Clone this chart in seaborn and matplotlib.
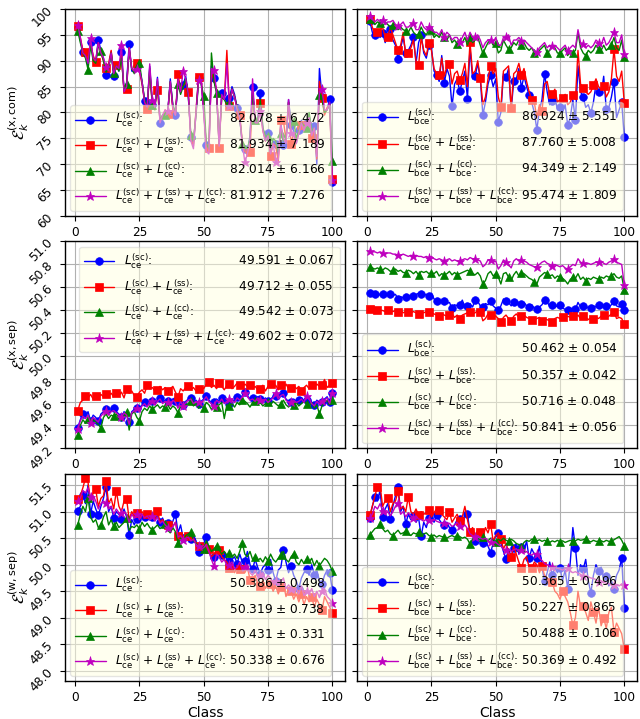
import matplotlib
matplotlib.use("Agg")
import matplotlib.pyplot as plt
import numpy as np
import seaborn as sns

class_ids = np.arange(1, 101)

# ---- row 1: E^(x,com) ----
xcom_ce_sc = [
    96.5, 94.0, 91.7, 91.5, 89.0, 93.7, 90.5, 89.8, 94.1, 92.0,
    90.5, 87.3, 88.5, 91.8, 87.0, 89.5, 88.0, 91.6, 84.2, 85.8,
    93.2, 88.0, 87.8, 89.0, 88.5, 86.0, 82.3, 80.8, 88.9, 81.5,
    81.0, 86.8, 78.0, 79.5, 80.0, 79.8, 86.5, 81.0, 79.5, 86.0,
    84.0, 85.4, 87.0, 83.5, 75.2, 74.0, 80.0, 86.7, 86.0, 80.0,
    73.8, 72.5, 89.0, 86.7, 84.0, 73.5, 83.7, 83.0, 82.0, 82.8,
    85.0, 83.5, 80.9, 79.0, 74.0, 73.0, 72.5, 75.5, 84.9, 78.0,
    78.5, 83.7, 77.0, 75.0, 76.0, 72.0, 74.5, 74.0, 71.5, 78.0,
    73.8, 74.0, 82.5, 77.5, 76.5, 74.0, 76.7, 78.5, 77.0, 78.0,
    79.5, 76.0, 77.3, 70.0, 88.5, 83.0, 80.0, 80.5, 82.6, 66.5,
]
xcom_ce_sc_ss = [
    96.8, 94.5, 92.0, 91.6, 90.0, 93.5, 91.0, 89.8, 93.5, 91.5,
    90.0, 88.6, 89.5, 92.0, 87.5, 89.2, 88.5, 91.0, 84.0, 84.5,
    92.5, 88.5, 88.0, 89.6, 88.0, 85.5, 82.0, 80.6, 88.0, 81.5,
    81.5, 84.4, 78.5, 79.0, 80.5, 79.7, 85.8, 80.5, 79.5, 87.4,
    84.5, 85.0, 86.0, 83.9, 75.0, 73.5, 80.5, 86.8, 86.5, 80.5,
    73.5, 73.1, 88.0, 86.0, 84.5, 73.2, 83.0, 82.5, 92.0, 81.2,
    84.5, 83.0, 81.0, 79.5, 74.5, 72.5, 72.0, 72.4, 84.0, 78.5,
    78.0, 81.8, 76.5, 74.5, 75.5, 71.6, 74.0, 73.5, 70.5, 78.5,
    78.5, 74.5, 82.0, 73.9, 76.0, 74.5, 76.0, 77.5, 76.5, 77.0,
    78.5, 75.0, 76.5, 71.0, 86.0, 82.8, 79.5, 81.0, 81.5, 67.2,
]
xcom_ce_sc_cc = [
    95.8, 93.5, 91.5, 90.5, 88.3, 93.0, 90.0, 89.5, 93.0, 91.9,
    90.0, 87.8, 88.5, 91.5, 87.6, 89.0, 88.0, 90.5, 84.5, 85.5,
    92.0, 88.5, 87.5, 89.0, 89.6, 86.0, 82.5, 81.0, 88.5, 81.5,
    80.5, 86.0, 78.5, 79.5, 79.5, 80.0, 86.0, 81.5, 80.0, 85.5,
    83.5, 85.0, 86.5, 83.0, 75.7, 74.5, 79.5, 86.0, 85.5, 83.2,
    74.0, 73.0, 91.5, 86.0, 83.7, 74.0, 83.0, 82.5, 81.5, 82.0,
    84.5, 83.0, 81.0, 79.0, 74.0, 73.5, 73.0, 75.0, 84.0, 78.5,
    78.0, 82.5, 77.0, 75.5, 75.5, 73.0, 75.0, 74.5, 72.5, 76.0,
    74.5, 75.0, 82.0, 77.0, 78.4, 75.0, 76.5, 78.0, 77.5, 77.0,
    80.0, 76.5, 77.0, 72.0, 83.4, 82.5, 80.0, 80.5, 81.5, 70.6,
]
xcom_ce_all = [
    97.0, 94.5, 91.5, 91.0, 89.5, 94.3, 90.5, 90.0, 93.5, 91.5,
    90.5, 88.8, 89.0, 91.5, 87.5, 89.0, 88.5, 93.0, 84.0, 85.0,
    92.5, 88.5, 88.0, 88.4, 88.0, 86.0, 82.0, 81.0, 89.4, 82.4,
    81.0, 86.5, 78.0, 79.5, 80.5, 80.2, 86.0, 81.0, 79.5, 86.5,
    84.0, 88.1, 86.5, 83.5, 74.5, 73.0, 80.0, 86.2, 86.0, 80.0,
    72.5, 72.0, 88.5, 88.2, 84.0, 73.5, 83.5, 82.5, 89.5, 81.3,
    84.5, 83.0, 80.5, 79.0, 74.0, 70.4, 72.0, 74.5, 86.5, 78.0,
    78.0, 80.3, 76.5, 74.5, 75.5, 72.0, 74.0, 70.5, 71.0, 77.5,
    75.0, 74.0, 82.5, 76.0, 76.0, 74.0, 76.0, 78.0, 76.5, 78.0,
    79.0, 75.5, 77.0, 71.5, 84.0, 84.5, 80.5, 80.5, 82.0, 67.0,
]
xcom_bce_sc = [
    97.7, 95.5, 94.9, 95.8, 94.5, 95.4, 93.5, 95.0, 96.2, 94.0,
    93.0, 90.3, 92.5, 94.5, 91.5, 92.0, 93.0, 94.6, 89.5, 93.5,
    95.0, 91.5, 90.5, 93.0, 92.5, 88.0, 87.3, 86.0, 91.0, 85.7,
    88.5, 87.0, 81.2, 85.5, 86.5, 84.1, 86.0, 88.0, 82.7, 92.5,
    86.5, 87.0, 89.5, 86.5, 79.5, 82.0, 85.5, 87.2, 85.0, 86.5,
    78.2, 80.0, 87.5, 86.8, 88.5, 80.5, 86.0, 86.5, 88.5, 84.8,
    87.0, 85.0, 83.3, 82.0, 80.0, 76.7, 80.5, 82.5, 87.5, 84.0,
    81.5, 82.2, 83.0, 80.5, 81.0, 80.0, 81.5, 77.6, 79.0, 82.5,
    78.5, 89.0, 84.0, 83.0, 81.0, 81.5, 79.9, 82.0, 85.5, 84.0,
    83.5, 87.0, 80.6, 81.0, 83.0, 85.9, 79.0, 80.5, 82.0, 75.3,
]
xcom_bce_sc_ss = [
    98.1, 96.5, 95.0, 95.5, 96.0, 96.5, 94.5, 94.6, 96.5, 95.0,
    93.5, 92.0, 93.0, 95.5, 91.0, 91.5, 92.5, 94.0, 90.0, 89.1,
    94.5, 92.0, 91.0, 93.5, 92.0, 88.5, 87.5, 87.2, 90.5, 87.0,
    89.0, 89.3, 85.5, 87.5, 88.0, 86.2, 87.5, 89.5, 85.0, 93.6,
    87.5, 88.0, 90.0, 86.7, 81.5, 83.0, 86.5, 89.0, 87.5, 88.5,
    83.0, 81.0, 88.0, 88.5, 89.0, 80.8, 87.5, 88.0, 89.5, 87.2,
    88.5, 86.0, 84.0, 82.4, 82.0, 79.0, 81.5, 80.3, 85.5, 86.0,
    83.5, 83.6, 84.5, 82.0, 82.5, 82.8, 83.5, 81.5, 82.0, 83.3,
    82.5, 92.0, 85.5, 84.8, 84.0, 83.5, 84.0, 85.3, 86.5, 85.0,
    84.5, 85.2, 83.0, 84.0, 86.5, 92.2, 87.0, 86.0, 88.0, 81.9,
]
xcom_bce_sc_cc = [
    98.0, 97.5, 97.0, 97.5, 97.3, 96.5, 97.5, 97.0, 96.5, 97.0,
    96.5, 96.0, 96.5, 96.0, 95.8, 95.5, 96.5, 95.5, 95.0, 95.1,
    96.5, 95.5, 95.0, 96.0, 96.0, 94.5, 95.0, 94.5, 95.5, 94.5,
    94.0, 95.0, 93.5, 94.0, 93.2, 94.0, 93.5, 94.5, 93.0, 94.5,
    93.5, 94.0, 94.5, 93.0, 91.4, 92.5, 93.5, 94.0, 93.0, 93.5,
    91.5, 92.0, 94.0, 93.0, 92.2, 92.5, 93.5, 93.0, 94.0, 93.0,
    93.5, 92.5, 92.0, 92.5, 91.5, 91.0, 92.0, 92.5, 93.0, 91.5,
    92.0, 93.0, 92.5, 91.5, 91.4, 92.0, 92.5, 91.0, 92.0, 91.5,
    92.0, 95.5, 92.5, 91.5, 91.0, 92.0, 91.5, 92.0, 93.0, 92.3,
    92.0, 93.0, 92.0, 92.5, 93.0, 94.5, 92.5, 92.0, 94.0, 90.7,
]
xcom_bce_all = [
    98.7, 98.0, 97.5, 98.0, 97.5, 97.9, 97.0, 97.5, 97.5, 97.8,
    97.0, 96.8, 97.0, 97.5, 96.5, 96.5, 97.0, 97.2, 96.0, 96.0,
    97.5, 96.5, 96.0, 96.5, 96.5, 95.5, 95.5, 95.0, 96.0, 94.6,
    95.5, 95.0, 94.0, 94.5, 94.5, 93.6, 94.5, 95.5, 94.0, 95.5,
    94.5, 94.5, 95.0, 94.0, 92.5, 93.5, 94.0, 94.1, 93.5, 94.5,
    93.0, 93.0, 94.5, 94.6, 95.0, 93.0, 94.0, 94.0, 94.5, 93.8,
    94.0, 93.5, 93.0, 92.5, 92.0, 91.6, 92.5, 93.0, 93.5, 92.5,
    93.0, 92.8, 93.0, 92.5, 92.0, 92.5, 93.0, 91.9, 92.5, 93.0,
    92.5, 96.0, 93.5, 93.3, 92.5, 93.0, 92.5, 93.0, 94.0, 93.5,
    93.0, 94.5, 93.0, 93.5, 94.5, 95.5, 93.5, 93.5, 95.0, 91.3,
]

# ---- row 2: E^(x,sep) ----
xsep_ce_sc = [
    49.38, 49.45, 49.50, 49.48, 49.52, 49.44, 49.49, 49.47, 49.44, 49.50,
    49.52, 49.54, 49.50, 49.53, 49.55, 49.52, 49.50, 49.47, 49.52, 49.50,
    49.43, 49.52, 49.54, 49.55, 49.53, 49.58, 49.60, 49.57, 49.62, 49.61,
    49.59, 49.62, 49.64, 49.60, 49.62, 49.61, 49.58, 49.63, 49.61, 49.56,
    49.62, 49.58, 49.61, 49.63, 49.64, 49.60, 49.62, 49.59, 49.61, 49.63,
    49.66, 49.62, 49.60, 49.60, 49.63, 49.61, 49.64, 49.60, 49.62, 49.59,
    49.63, 49.61, 49.65, 49.63, 49.66, 49.69, 49.66, 49.63, 49.64, 49.62,
    49.65, 49.63, 49.61, 49.64, 49.61, 49.63, 49.65, 49.66, 49.64, 49.67,
    49.68, 49.63, 49.61, 49.60, 49.63, 49.61, 49.62, 49.64, 49.61, 49.62,
    49.64, 49.60, 49.58, 49.62, 49.60, 49.60, 49.63, 49.65, 49.60, 49.68,
]
xsep_ce_sc_ss = [
    49.53, 49.60, 49.62, 49.66, 49.64, 49.67, 49.63, 49.66, 49.64, 49.67,
    49.65, 49.67, 49.66, 49.68, 49.65, 49.68, 49.66, 49.69, 49.64, 49.72,
    49.68, 49.70, 49.66, 49.65, 49.69, 49.71, 49.68, 49.75, 49.72, 49.73,
    49.70, 49.71, 49.74, 49.71, 49.73, 49.70, 49.72, 49.74, 49.69, 49.65,
    49.72, 49.70, 49.73, 49.74, 49.71, 49.73, 49.70, 49.72, 49.74, 49.72,
    49.76, 49.78, 49.73, 49.75, 49.72, 49.77, 49.74, 49.71, 49.75, 49.76,
    49.72, 49.74, 49.77, 49.75, 49.73, 49.76, 49.74, 49.75, 49.72, 49.74,
    49.71, 49.72, 49.75, 49.70, 49.74, 49.76, 49.73, 49.75, 49.71, 49.75,
    49.73, 49.76, 49.72, 49.73, 49.75, 49.72, 49.74, 49.70, 49.73, 49.75,
    49.72, 49.75, 49.73, 49.76, 49.74, 49.75, 49.80, 49.73, 49.75, 49.77,
]
xsep_ce_sc_cc = [
    49.32, 49.40, 49.45, 49.42, 49.46, 49.40, 49.45, 49.43, 49.41, 49.38,
    49.47, 49.50, 49.46, 49.49, 49.48, 49.50, 49.46, 49.44, 49.48, 49.52,
    49.36, 49.50, 49.52, 49.47, 49.44, 49.52, 49.55, 49.53, 49.57, 49.54,
    49.56, 49.58, 49.55, 49.57, 49.56, 49.58, 49.54, 49.57, 49.55, 49.51,
    49.57, 49.55, 49.58, 49.59, 49.61, 49.57, 49.59, 49.55, 49.58, 49.55,
    49.60, 49.58, 49.54, 49.57, 49.56, 49.58, 49.60, 49.46, 49.58, 49.57,
    49.59, 49.56, 49.60, 49.58, 49.62, 49.61, 49.59, 49.56, 49.60, 49.61,
    49.58, 49.60, 49.57, 49.59, 49.60, 49.58, 49.61, 49.59, 49.57, 49.59,
    49.62, 49.58, 49.56, 49.59, 49.58, 49.60, 49.57, 49.59, 49.61, 49.59,
    49.57, 49.60, 49.55, 49.58, 49.50, 49.57, 49.60, 49.62, 49.58, 49.62,
]
xsep_ce_all = [
    49.37, 49.44, 49.48, 49.46, 49.49, 49.42, 49.47, 49.45, 49.43, 49.48,
    49.51, 49.53, 49.49, 49.52, 49.53, 49.51, 49.49, 49.47, 49.51, 49.49,
    49.41, 49.51, 49.53, 49.55, 49.52, 49.57, 49.59, 49.56, 49.61, 49.61,
    49.58, 49.61, 49.63, 49.59, 49.61, 49.60, 49.57, 49.62, 49.60, 49.55,
    49.61, 49.57, 49.60, 49.62, 49.63, 49.59, 49.61, 49.60, 49.60, 49.62,
    49.65, 49.61, 49.59, 49.57, 49.62, 49.60, 49.63, 49.59, 49.61, 49.63,
    49.62, 49.60, 49.64, 49.62, 49.65, 49.68, 49.65, 49.62, 49.63, 49.61,
    49.64, 49.62, 49.60, 49.63, 49.60, 49.62, 49.64, 49.68, 49.63, 49.66,
    49.67, 49.62, 49.60, 49.60, 49.62, 49.60, 49.61, 49.63, 49.60, 49.66,
    49.63, 49.59, 49.57, 49.61, 49.59, 49.61, 49.62, 49.64, 49.59, 49.68,
]
xsep_bce_sc = [
    50.55, 50.54, 50.54, 50.53, 50.54, 50.54, 50.53, 50.54, 50.54, 50.53,
    50.54, 50.50, 50.52, 50.51, 50.52, 50.53, 50.52, 50.53, 50.54, 50.55,
    50.54, 50.53, 50.54, 50.53, 50.55, 50.50, 50.48, 50.49, 50.47, 50.48,
    50.46, 50.47, 50.42, 50.45, 50.44, 50.45, 50.49, 50.43, 50.44, 50.46,
    50.43, 50.49, 50.48, 50.44, 50.43, 50.46, 50.45, 50.48, 50.44, 50.42,
    50.40, 50.44, 50.50, 50.48, 50.47, 50.44, 50.47, 50.48, 50.45, 50.46,
    50.47, 50.44, 50.43, 50.45, 50.42, 50.41, 50.43, 50.45, 50.49, 50.47,
    50.44, 50.45, 50.43, 50.44, 50.45, 50.42, 50.41, 50.40, 50.42, 50.41,
    50.41, 50.47, 50.43, 50.44, 50.42, 50.43, 50.42, 50.44, 50.43, 50.45,
    50.46, 50.44, 50.44, 50.43, 50.45, 50.48, 50.44, 50.43, 50.46, 50.40,
]
xsep_bce_sc_ss = [
    50.41, 50.40, 50.40, 50.40, 50.40, 50.40, 50.39, 50.40, 50.40, 50.39,
    50.40, 50.39, 50.40, 50.38, 50.39, 50.39, 50.38, 50.39, 50.38, 50.37,
    50.39, 50.38, 50.39, 50.39, 50.38, 50.37, 50.36, 50.35, 50.37, 50.36,
    50.35, 50.36, 50.37, 50.34, 50.36, 50.33, 50.36, 50.37, 50.38, 50.39,
    50.37, 50.38, 50.40, 50.39, 50.31, 50.33, 50.37, 50.36, 50.37, 50.35,
    50.33, 50.30, 50.34, 50.36, 50.33, 50.31, 50.35, 50.37, 50.34, 50.35,
    50.36, 50.34, 50.33, 50.32, 50.31, 50.33, 50.34, 50.31, 50.33, 50.32,
    50.31, 50.30, 50.33, 50.34, 50.33, 50.34, 50.33, 50.35, 50.34, 50.35,
    50.34, 50.36, 50.33, 50.35, 50.34, 50.32, 50.34, 50.33, 50.34, 50.33,
    50.35, 50.36, 50.34, 50.35, 50.37, 50.39, 50.33, 50.34, 50.33, 50.28,
]
xsep_bce_sc_cc = [
    50.78, 50.77, 50.76, 50.77, 50.76, 50.75, 50.77, 50.76, 50.74, 50.75,
    50.76, 50.74, 50.75, 50.73, 50.73, 50.75, 50.74, 50.72, 50.74, 50.71,
    50.74, 50.73, 50.74, 50.72, 50.73, 50.72, 50.74, 50.70, 50.72, 50.71,
    50.72, 50.74, 50.71, 50.73, 50.71, 50.72, 50.73, 50.74, 50.75, 50.74,
    50.72, 50.71, 50.73, 50.70, 50.63, 50.66, 50.72, 50.74, 50.70, 50.72,
    50.69, 50.63, 50.72, 50.73, 50.69, 50.66, 50.71, 50.74, 50.70, 50.73,
    50.72, 50.70, 50.68, 50.67, 50.65, 50.63, 50.69, 50.71, 50.73, 50.72,
    50.70, 50.71, 50.68, 50.70, 50.69, 50.68, 50.66, 50.63, 50.67, 50.69,
    50.68, 50.72, 50.67, 50.69, 50.66, 50.68, 50.67, 50.69, 50.68, 50.67,
    50.69, 50.68, 50.70, 50.69, 50.70, 50.72, 50.69, 50.68, 50.70, 50.58,
]
xsep_bce_all = [
    50.92, 50.91, 50.91, 50.90, 50.91, 50.90, 50.89, 50.90, 50.90, 50.89,
    50.89, 50.88, 50.88, 50.89, 50.88, 50.87, 50.88, 50.87, 50.88, 50.87,
    50.87, 50.86, 50.87, 50.86, 50.87, 50.85, 50.84, 50.85, 50.84, 50.83,
    50.84, 50.85, 50.83, 50.84, 50.83, 50.83, 50.84, 50.85, 50.84, 50.86,
    50.85, 50.85, 50.84, 50.83, 50.78, 50.80, 50.84, 50.84, 50.82, 50.83,
    50.76, 50.79, 50.84, 50.82, 50.80, 50.77, 50.83, 50.85, 50.83, 50.84,
    50.83, 50.82, 50.80, 50.79, 50.78, 50.78, 50.80, 50.82, 50.83, 50.81,
    50.80, 50.79, 50.80, 50.79, 50.78, 50.79, 50.77, 50.76, 50.78, 50.80,
    50.79, 50.85, 50.82, 50.81, 50.80, 50.81, 50.80, 50.81, 50.82, 50.82,
    50.83, 50.81, 50.80, 50.82, 50.83, 50.85, 50.82, 50.81, 50.80, 50.62,
]

# ---- row 3: E^(w,sep) ----
wsep_ce_sc = [
    51.02, 51.10, 51.31, 51.15, 51.50, 50.96, 51.20, 51.05, 50.93, 51.10,
    51.25, 51.47, 51.00, 51.10, 50.88, 51.00, 50.95, 50.87, 51.05, 50.90,
    50.56, 50.85, 50.75, 50.87, 50.80, 50.95, 50.90, 50.85, 50.95, 50.90,
    50.85, 50.92, 50.80, 50.88, 50.75, 50.78, 50.70, 50.82, 50.96, 50.60,
    50.75, 50.50, 50.55, 50.60, 50.48, 50.55, 50.45, 50.24, 50.35, 50.40,
    50.52, 50.30, 50.10, 50.15, 50.30, 50.20, 50.18, 50.25, 50.10, 50.07,
    50.10, 50.15, 50.02, 50.20, 50.05, 50.07, 50.25, 50.00, 49.91, 50.10,
    49.95, 49.83, 49.95, 50.00, 49.90, 50.10, 49.85, 49.69, 49.90, 49.95,
    50.27, 50.05, 49.85, 49.97, 49.80, 49.70, 49.55, 49.75, 49.85, 49.91,
    49.80, 50.00, 49.81, 49.90, 49.70, 49.64, 49.80, 49.90, 49.85, 49.53,
]
wsep_ce_sc_ss = [
    51.23, 51.30, 51.45, 51.63, 51.55, 51.20, 51.35, 51.42, 51.10, 51.25,
    51.30, 51.58, 51.15, 51.25, 51.05, 51.39, 51.10, 51.00, 51.20, 51.24,
    50.85, 51.00, 50.90, 50.97, 50.88, 51.00, 50.92, 50.95, 50.88, 50.92,
    50.85, 51.02, 50.80, 50.85, 50.78, 50.75, 50.65, 50.72, 50.80, 50.55,
    50.60, 50.50, 50.58, 50.55, 50.45, 50.50, 50.40, 50.35, 50.30, 50.35,
    50.42, 50.30, 50.15, 50.20, 50.28, 50.28, 50.15, 50.10, 50.05, 49.93,
    50.00, 49.85, 49.95, 49.92, 49.90, 49.85, 49.95, 49.72, 49.70, 49.80,
    49.65, 49.60, 49.70, 49.55, 49.65, 49.63, 49.50, 49.60, 49.45, 49.58,
    49.65, 49.40, 49.55, 49.50, 49.35, 49.45, 49.30, 49.45, 49.25, 49.40,
    49.30, 49.40, 49.20, 49.35, 49.25, 49.14, 49.40, 49.30, 49.20, 49.09,
]
wsep_ce_sc_cc = [
    50.75, 50.95, 51.10, 51.00, 51.26, 50.90, 50.80, 50.85, 50.70, 50.74,
    50.90, 51.00, 50.75, 50.85, 50.72, 50.80, 50.70, 50.75, 50.80, 50.88,
    50.65, 50.72, 50.70, 50.75, 50.67, 50.80, 50.72, 50.78, 50.70, 50.66,
    50.70, 50.75, 50.68, 50.72, 50.77, 50.65, 50.60, 50.70, 50.62, 50.41,
    50.50, 50.45, 50.55, 50.58, 50.61, 50.45, 50.40, 50.35, 50.38, 50.30,
    50.45, 50.35, 50.25, 50.30, 50.36, 50.28, 50.20, 50.25, 50.18, 50.22,
    50.15, 50.20, 50.12, 50.25, 50.41, 50.20, 50.15, 50.25, 50.10, 50.15,
    50.08, 50.12, 50.05, 50.15, 50.07, 50.20, 50.10, 50.05, 50.12, 50.18,
    50.25, 50.10, 50.05, 50.15, 50.21, 50.05, 50.00, 50.10, 50.02, 50.10,
    50.05, 50.12, 49.98, 50.08, 49.98, 50.05, 50.12, 50.08, 50.00, 49.88,
]
wsep_ce_all = [
    51.20, 51.25, 51.40, 51.35, 51.45, 51.27, 51.30, 51.20, 51.05, 51.15,
    51.20, 51.16, 51.05, 51.10, 50.95, 51.05, 50.98, 50.98, 51.00, 50.95,
    50.80, 50.95, 50.88, 50.96, 50.85, 50.95, 50.88, 50.92, 50.85, 50.92,
    50.82, 50.90, 50.78, 50.82, 50.75, 50.70, 50.65, 50.72, 50.80, 50.52,
    50.55, 50.47, 50.50, 50.52, 50.45, 50.48, 50.38, 50.35, 50.30, 50.32,
    50.38, 50.25, 50.10, 49.97, 50.20, 50.15, 50.05, 50.10, 49.98, 50.00,
    50.05, 49.92, 49.95, 50.05, 49.90, 49.95, 50.00, 49.85, 49.80, 49.90,
    49.78, 49.80, 49.85, 49.72, 49.80, 49.75, 49.65, 49.70, 49.60, 49.68,
    49.75, 49.55, 49.62, 49.55, 49.48, 49.55, 49.45, 49.60, 49.42, 49.50,
    49.45, 49.55, 49.40, 49.50, 49.38, 49.50, 49.55, 49.40, 49.35, 49.27,
]
wsep_bce_sc = [
    50.88, 51.10, 51.27, 51.20, 51.40, 50.90, 51.05, 51.15, 50.86, 51.10,
    51.30, 51.46, 51.00, 51.10, 50.77, 50.95, 50.85, 50.92, 50.80, 50.88,
    50.54, 50.80, 50.70, 50.88, 50.95, 50.80, 50.93, 50.85, 50.78, 50.74,
    50.80, 50.70, 50.66, 50.75, 50.85, 50.86, 50.80, 50.92, 50.96, 50.60,
    50.55, 50.45, 50.60, 50.50, 50.40, 50.45, 50.35, 50.23, 50.40, 50.55,
    50.59, 50.40, 50.25, 50.11, 50.30, 50.15, 50.31, 50.40, 50.20, 50.34,
    50.25, 50.45, 50.12, 50.30, 50.20, 50.13, 50.35, 49.95, 49.69, 49.85,
    50.05, 49.80, 49.95, 49.85, 49.94, 49.70, 49.90, 49.55, 50.05, 50.70,
    50.32, 49.80, 50.00, 49.91, 50.10, 49.70, 49.47, 49.80, 50.00, 49.88,
    49.95, 49.75, 49.78, 49.60, 49.70, 49.55, 49.80, 49.90, 50.13, 49.19,
]
wsep_bce_sc_ss = [
    50.93, 51.10, 51.30, 51.46, 51.50, 51.10, 51.20, 51.25, 51.00, 51.15,
    51.20, 51.38, 51.05, 51.10, 51.00, 51.28, 51.00, 50.95, 51.05, 50.93,
    51.00, 50.95, 50.98, 51.04, 50.90, 50.98, 51.05, 51.04, 50.95, 50.90,
    50.85, 50.99, 50.80, 50.88, 50.95, 50.83, 50.90, 51.10, 50.85, 50.62,
    50.70, 50.55, 50.65, 50.61, 50.50, 50.70, 50.60, 50.77, 50.45, 50.55,
    50.60, 50.49, 50.30, 50.40, 50.25, 50.15, 50.35, 50.20, 50.05, 49.93,
    50.10, 50.15, 49.95, 49.93, 50.05, 50.00, 49.85, 49.97, 49.80, 49.75,
    49.60, 49.67, 49.50, 49.45, 49.35, 49.50, 49.40, 49.30, 49.10, 48.86,
    49.00, 49.50, 49.20, 49.23, 49.10, 48.95, 49.30, 49.11, 48.90, 49.20,
    48.85, 49.00, 48.80, 49.10, 49.20, 48.73, 48.90, 48.80, 48.70, 48.41,
]
wsep_bce_sc_cc = [
    50.56, 50.62, 50.68, 50.70, 50.77, 50.68, 50.62, 50.65, 50.58, 50.55,
    50.60, 50.65, 50.58, 50.60, 50.63, 50.58, 50.55, 50.60, 50.58, 50.61,
    50.55, 50.58, 50.60, 50.55, 50.53, 50.56, 50.52, 50.55, 50.53, 50.52,
    50.50, 50.53, 50.55, 50.52, 50.55, 50.53, 50.50, 50.52, 50.48, 50.39,
    50.48, 50.52, 50.50, 50.47, 50.52, 50.48, 50.45, 50.50, 50.46, 50.43,
    50.48, 50.45, 50.50, 50.46, 50.44, 50.48, 50.45, 50.40, 50.38, 50.34,
    50.42, 50.46, 50.44, 50.48, 50.48, 50.45, 50.47, 50.44, 50.46, 50.44,
    50.42, 50.45, 50.43, 50.46, 50.43, 50.45, 50.42, 50.44, 50.46, 50.44,
    50.45, 50.48, 50.46, 50.47, 50.49, 50.45, 50.43, 50.46, 50.44, 50.44,
    50.45, 50.43, 50.46, 50.44, 50.44, 50.47, 50.50, 50.53, 50.46, 50.36,
]
wsep_bce_all = [
    50.88, 50.95, 51.10, 51.05, 51.15, 51.02, 50.95, 51.00, 50.92, 51.00,
    51.10, 51.16, 50.95, 51.00, 50.90, 50.98, 50.92, 50.88, 50.92, 50.86,
    50.85, 50.82, 50.86, 50.84, 50.80, 50.85, 50.82, 50.80, 50.78, 50.78,
    50.75, 50.78, 50.72, 50.75, 50.80, 50.73, 50.70, 50.75, 50.68, 50.58,
    50.55, 50.52, 50.55, 50.50, 50.48, 50.50, 50.45, 50.42, 50.40, 50.42,
    50.38, 50.35, 50.30, 50.27, 50.30, 50.25, 50.28, 50.30, 50.25, 50.27,
    50.22, 50.25, 50.20, 50.18, 50.22, 50.20, 50.12, 50.08, 50.02, 50.00,
    49.98, 49.96, 49.95, 49.93, 49.92, 49.90, 49.93, 49.93, 49.88, 49.85,
    49.87, 49.84, 49.82, 49.78, 49.80, 49.77, 49.75, 49.74, 49.72, 49.68,
    49.70, 49.67, 49.65, 49.64, 49.62, 49.61, 49.63, 49.60, 49.64, 49.61,
]

# mean / std shown in the legends
xcom_ce_mean = [82.078, 81.934, 82.014, 81.912]
xcom_ce_std = [6.472, 7.189, 6.166, 7.276]
xcom_bce_mean = [86.024, 87.760, 94.349, 95.474]
xcom_bce_std = [5.551, 5.008, 2.149, 1.809]
xsep_ce_mean = [49.591, 49.712, 49.542, 49.602]
xsep_ce_std = [0.067, 0.055, 0.073, 0.072]
xsep_bce_mean = [50.462, 50.357, 50.716, 50.841]
xsep_bce_std = [0.054, 0.042, 0.048, 0.056]
wsep_ce_mean = [50.386, 50.319, 50.431, 50.338]
wsep_ce_std = [0.498, 0.738, 0.331, 0.676]
wsep_bce_mean = [50.365, 50.227, 50.488, 50.369]
wsep_bce_std = [0.496, 0.865, 0.106, 0.492]

row_ylabels = [
    r"$\mathcal{E}_k^{(\mathrm{x,com})}$",
    r"$\mathcal{E}_k^{(\mathrm{x,sep})}$",
    r"$\mathcal{E}_k^{(\mathrm{w,sep})}$",
]
row_ylims = [(60, 100), (49.2, 51.0), (47.81, 51.71)]
row_yticks = [
    [60, 65, 70, 75, 80, 85, 90, 95, 100],
    [49.2, 49.4, 49.6, 49.8, 50.0, 50.2, 50.4, 50.6, 50.8, 51.0],
    [48.0, 48.5, 49.0, 49.5, 50.0, 50.5, 51.0, 51.5],
]

# color, marker, marker step
styles = [("b", "o", 3), ("r", "s", 4), ("g", "^", 5), ("m", "*", 6)]

panels = [
    (0, 0, "ce", [xcom_ce_sc, xcom_ce_sc_ss, xcom_ce_sc_cc, xcom_ce_all],
     xcom_ce_mean, xcom_ce_std, "lower left"),
    (0, 1, "bce", [xcom_bce_sc, xcom_bce_sc_ss, xcom_bce_sc_cc, xcom_bce_all],
     xcom_bce_mean, xcom_bce_std, "lower left"),
    (1, 0, "ce", [xsep_ce_sc, xsep_ce_sc_ss, xsep_ce_sc_cc, xsep_ce_all],
     xsep_ce_mean, xsep_ce_std, "upper right"),
    (1, 1, "bce", [xsep_bce_sc, xsep_bce_sc_ss, xsep_bce_sc_cc, xsep_bce_all],
     xsep_bce_mean, xsep_bce_std, "lower left"),
    (2, 0, "ce", [wsep_ce_sc, wsep_ce_sc_ss, wsep_ce_sc_cc, wsep_ce_all],
     wsep_ce_mean, wsep_ce_std, "lower left"),
    (2, 1, "bce", [wsep_bce_sc, wsep_bce_sc_ss, wsep_bce_sc_cc, wsep_bce_all],
     wsep_bce_mean, wsep_bce_std, "lower left"),
]

FS = 8.7

sns.set_style("ticks", {
    "axes.grid": True,
    "grid.color": "#b0b0b0",
    "axes.edgecolor": "black",
    "xtick.color": "black",
    "ytick.color": "black",
    "text.color": "black",
    "axes.labelcolor": "black",
})
plt.rcParams["font.family"] = ["DejaVu Sans"]
plt.rcParams["mathtext.fontset"] = "dejavusans"


def loss_names(tag):
    def term(s):
        return rf"$L_{{\mathrm{{{tag}}}}}^{{(\mathrm{{{s}}})}}$"
    return [
        f"{term('sc')}:",
        f"{term('sc')} + {term('ss')}:",
        f"{term('sc')} + {term('cc')}:",
        f"{term('sc')} + {term('ss')} + {term('cc')}:",
    ]


def marker_positions(step):
    idx = {0, len(class_ids) - 1}
    idx.update(i for i, c in enumerate(class_ids) if c % step == 0)
    return sorted(idx)


fig, axes = plt.subplots(3, 2, figsize=(6.4, 7.19), dpi=100,
                         sharex=True, sharey="row")
fig.subplots_adjust(left=0.1016, right=0.9953, top=0.9875, bottom=0.0529,
                    wspace=0.043, hspace=0.123)
renderer = fig.canvas.get_renderer()


def text_width(s):
    t = fig.text(0, 0, s, fontsize=FS)
    w = t.get_window_extent(renderer=renderer).width
    t.remove()
    return w


em = (text_width(r"$m\hspace{10}m$") - text_width(r"$mm$")) / 10.0

for row, col, tag, series, means, stds, loc in panels:
    ax = axes[row, col]
    for values, (color, marker, step) in zip(series, styles):
        sns.lineplot(x=class_ids, y=values, ax=ax, color=color,
                     marker=marker, markevery=marker_positions(step),
                     markersize=6.5 if marker == "*" else 5.5,
                     markeredgecolor=color, markeredgewidth=0.5,
                     linewidth=1.0, errorbar=None, legend=False)

    names = loss_names(tag)
    widths = [text_width(n) for n in names]
    wmax = max(widths)
    labels = []
    for name, w, m, s in zip(names, widths, means, stds):
        pad = (wmax - w) / em
        space = rf"$\hspace{{{pad:.3f}}}$" if pad > 0.01 else ""
        labels.append(f"{name}{space} {m:.3f} ± {s:.3f}")

    ax.legend(ax.get_lines(), labels, loc=loc, fontsize=FS,
              facecolor="lightyellow", framealpha=0.5, edgecolor="0.8",
              handlelength=2.5, borderaxespad=0.45)

    ax.set_ylim(*row_ylims[row])
    ax.set_yticks(row_yticks[row])
    ax.set_xticks([0, 25, 50, 75, 100])
    ax.tick_params(axis="x", labelbottom=True, labelsize=FS)
    ax.tick_params(axis="y", labelrotation=45, labelsize=FS)
    ax.grid(True, color="#b0b0b0", linewidth=0.8)
    for sp in ax.spines.values():
        sp.set_linewidth(1.0)
    if row == 2:
        ax.set_xlabel("Class", fontsize=10, labelpad=1.5)
    else:
        ax.set_xlabel("")
    if col == 0:
        ax.set_ylabel(row_ylabels[row], fontsize=11.5)
        ax.yaxis.set_label_coords(-0.12, 0.5)
    else:
        ax.set_ylabel("")

fig.savefig("out.png", dpi=100)
